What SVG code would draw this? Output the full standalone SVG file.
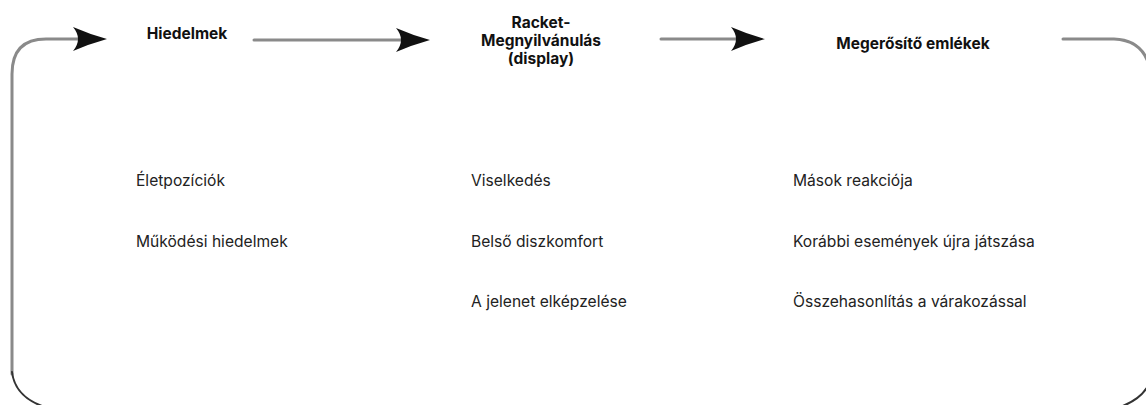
<svg xmlns="http://www.w3.org/2000/svg" width="1146" height="405" viewBox="0 0 1146 405">
  <style>
    .line { fill: none; stroke: #8a8a8a; stroke-width: 3; stroke-linecap: round; }
    .dark { fill: none; stroke: #333; stroke-width: 2; stroke-linecap: round; }
    .head { fill: #111; }
    .title { font-family: "Inter", "Liberation Sans", sans-serif; font-size: 15.5px; font-weight: 700; fill: #111; }
    .item { font-family: "Inter", "Liberation Sans", sans-serif; font-size: 15.6px; fill: #222; }
  </style>
  <defs>
    <!-- swept arrowhead, tip at origin, pointing right -->
    <path id="arrowhead" class="head" d="M0,0 Q-18,-5 -34,-12 Q-24,0 -34,12 Q-18,5 0,0 Z"/>
  </defs>
  <rect width="1146" height="405" fill="#fff"/>

  <g id="connectors">
    <!-- loop back into Hiedelmek -->
    <path class="line" d="M12,374 L12,74 Q12,39 46,39 L80,39"/>
    <use href="#arrowhead" transform="translate(107,39)"/>
    <path class="dark" d="M12,372 Q15,396 42,406"/>
    <!-- Hiedelmek to Racket -->
    <path class="line" d="M254,40 L404,40"/>
    <use href="#arrowhead" transform="translate(430,40)"/>
    <!-- Racket to Megerősítő emlékek -->
    <path class="line" d="M661,39 L740,39"/>
    <use href="#arrowhead" transform="translate(765,39)"/>
    <!-- out of Megerősítő emlékek, round the right edge -->
    <path class="line" d="M1063,39 L1114,39 Q1140,40 1148,62"/>
    <path class="dark" d="M1148,386 Q1140,400 1120,407"/>
  </g>

  <g id="node-hiedelmek">
    <text class="title" x="187" y="39" text-anchor="middle">Hiedelmek</text>
    <text class="item" x="136" y="186">Életpozíciók</text>
    <text class="item" x="136" y="247">Működési hiedelmek</text>
  </g>

  <g id="node-racket">
    <text class="title" x="541" y="28" text-anchor="middle">Racket-</text>
    <text class="title" x="541" y="46" text-anchor="middle">Megnyilvánulás</text>
    <text class="title" x="541" y="64" text-anchor="middle">(display)</text>
    <text class="item" x="471" y="186">Viselkedés</text>
    <text class="item" x="471" y="247">Belső diszkomfort</text>
    <text class="item" x="471" y="307">A jelenet elképzelése</text>
  </g>

  <g id="node-megerosito">
    <text class="title" x="913" y="49" text-anchor="middle">Megerősítő emlékek</text>
    <text class="item" x="793" y="186">Mások reakciója</text>
    <text class="item" x="793" y="247">Korábbi események újra játszása</text>
    <text class="item" x="793" y="307">Összehasonlítás a várakozással</text>
  </g>
</svg>
